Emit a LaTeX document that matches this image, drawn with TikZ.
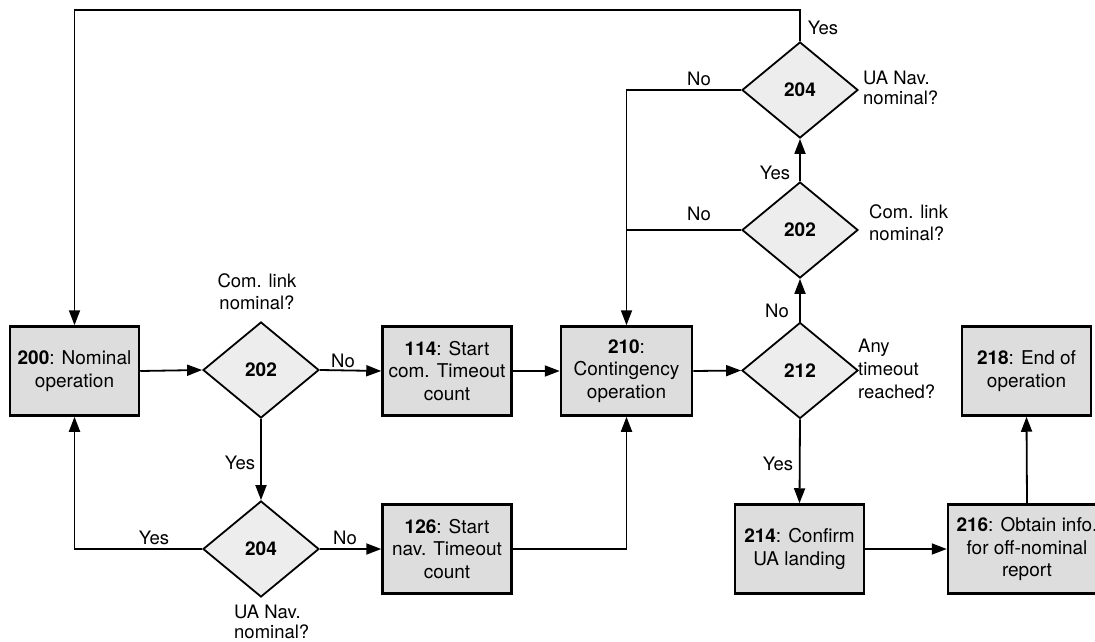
\documentclass[tikz,border=0pt]{standalone}
\usepackage{fontspec}
\setmainfont{TeX Gyre Heros}
\usetikzlibrary{shapes.geometric,arrows.meta}
\definecolor{boxfill}{HTML}{DDDDDD}
\definecolor{diafill}{HTML}{EDEDED}
\begin{document}
\begin{tikzpicture}[x=1pt,y=-1pt,
 procbox/.style={draw, line width=2.5pt, fill=boxfill, minimum width=129pt, minimum height=89pt, align=center, inner sep=0pt, font=\fontsize{19}{22.7}\selectfont},
 decision/.style={draw, diamond, line width=1.8pt, fill=diafill, minimum width=116pt, minimum height=96pt, inner sep=0pt, font=\fontsize{19}{22.7}\selectfont\bfseries},
 conn/.style={line width=1.8pt, -{Triangle[length=15pt,width=11pt]}},
 plain/.style={line width=1.8pt},
 lbl/.style={inner sep=0pt, font=\fontsize{18.5}{20}\selectfont},
 qlbl/.style={inner sep=0pt, align=left, font=\fontsize{18.5}{20}\selectfont},
 ]
\useasboundingbox (0,0) rectangle (1095,642);

% main row
\node[procbox] (n200) at (74.5,371) {\textbf{200}: Nominal\\operation};
\node[decision] (d202) at (261,370) {202};
\node[procbox] (n114) at (447,371) {\textbf{114}: Start\\com. Timeout\\count};
\node[procbox, minimum width=131pt] (n210) at (626.5,371) {\textbf{210}:\\Contingency\\operation};
\node[decision] (d212) at (800,370.5) {212};
\node[procbox] (n218) at (1026.5,371) {\textbf{218}: End of\\operation};

% lower row
\node[decision] (d204b) at (261,549) {204};
\node[procbox] (n126) at (447,549) {\textbf{126}: Start\\nav. Timeout\\count};
\node[procbox] (n214) at (799.5,549) {\textbf{214}: Confirm\\UA landing};
\node[procbox, minimum width=158pt] (n216) at (1027,549) {\textbf{216}: Obtain info.\\for off-nominal\\report};

% upper column
\node[decision] (d202u) at (800,230) {202};
\node[decision] (d204u) at (800,90) {204};

% connectors
\draw[conn] (n200.east) -- (d202.west);
\draw[conn] (d202.east) -- (n114.west);
\draw[conn] (n114.east) -- (n210.west);
\draw[conn] (n210.east) -- (d212.west);
\draw[conn] (d202.south) -- (d204b.north);
\draw[conn] (d204b.west) -| (n200.south);
\draw[conn] (d204b.east) -- (n126.west);
\draw[conn] (n126.east) -| (n210.south);
\draw[conn] (d212.north) -- (d202u.south);
\draw[conn] (d202u.north) -- (d204u.south);
\draw[conn] (d204u.north) -- ++(0,-31) -| (n200.north);
\draw[conn] (d204u.west) -| (n210.north);
\draw[plain] (d202u.west) -- (d202u.west -| n210.north);
\draw[conn] (d212.south) -- (n214.north);
\draw[conn] (n214.east) -- (n216.west);
\draw[conn] (n216.north) -- (n218.south);

% branch labels
\node[lbl] (l1) at (343,361) {No};
\node[lbl] (l2) at (240,463) {Yes};
\node[lbl] (l3) at (154,538) {Yes};
\node[lbl] (l4) at (345,538) {No};
\node[lbl] (l5) at (777,311) {No};
\node[lbl] (l6) at (775,173) {Yes};
\node[lbl] (l7) at (823,28) {Yes};
\node[lbl] (l8) at (699,79) {No};
\node[lbl] (l9) at (699,214) {No};
\node[lbl] (l10) at (778,464) {Yes};

% question labels
\node[qlbl, align=center, anchor=north, font=\fontsize{18.5}{22}\selectfont] (q1) at (257,273) {Com. link\\nominal?};
\node[qlbl, anchor=north west] (q2) at (234,605) {UA Nav.\\nominal?};
\node[qlbl, anchor=north west] (q3) at (863,71) {UA Nav.\\nominal?};
\node[qlbl, anchor=north west, font=\fontsize{18.5}{22}\selectfont] (q4) at (869,204) {Com. link\\nominal?};
\node[qlbl, anchor=north west, font=\fontsize{18.5}{22.8}\selectfont] (q5) at (858,339) {Any\\timeout\\reached?};
\end{tikzpicture}
\end{document}
